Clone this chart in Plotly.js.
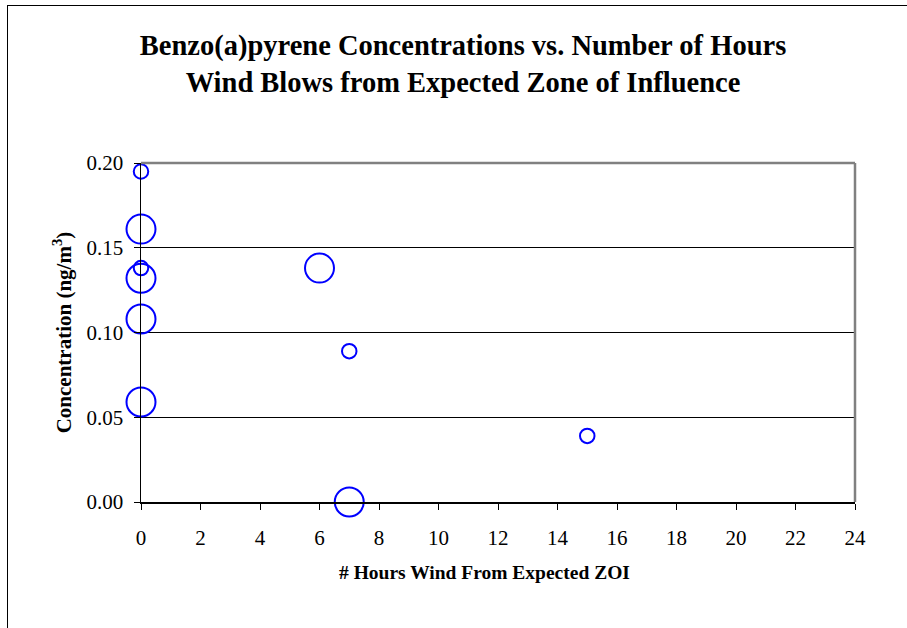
<!DOCTYPE html>
<html>
<head>
<meta charset="utf-8">
<script src="https://cdn.plot.ly/plotly-3.0.1.min.js"></script>
<style>
  html, body { margin: 0; padding: 0; background: #fff; overflow: hidden; }
  #frame { position: absolute; left: 7px; top: 5px; width: 1200px; height: 1000px; border: 1px solid #000; pointer-events: none; z-index: 2; }
  #chart { position: absolute; left: 0; top: 0; width: 907px; height: 628px; }
</style>
</head>
<body>
<div id="chart"></div>
<div id="frame"></div>
<script>
// Data
const hoursWindFromZOI = [0, 0, 0, 0, 0, 0, 6, 7, 7, 15];
const concentration = [0.195, 0.161, 0.138, 0.132, 0.108, 0.059, 0.138, 0.089, 0.000, 0.039];
const bubbleSize = [1, 2, 1, 2, 2, 2, 2, 1, 2, 1];
const xTickValues = [0, 2, 4, 6, 8, 10, 12, 14, 16, 18, 20, 22, 24];
const yTickValues = [0.00, 0.05, 0.10, 0.15, 0.20];

const serif = 'Liberation Serif, Times New Roman, serif';

const trace = {
  type: 'scatter',
  mode: 'markers',
  x: hoursWindFromZOI,
  y: concentration,
  cliponaxis: false,
  hoverinfo: 'x+y',
  marker: {
    symbol: 'circle-open',
    size: bubbleSize,
    sizemode: 'diameter',
    sizeref: 1 / 14.5,
    opacity: 1,
    color: '#0000FF',
    line: { color: '#0000FF', width: 2 }
  }
};

const layout = {
  width: 907,
  height: 628,
  margin: { l: 141, r: 52, t: 163, b: 126 },
  paper_bgcolor: '#ffffff',
  plot_bgcolor: '#ffffff',
  showlegend: false,
  font: { family: serif, color: '#000' },
  title: {
    text: '<b>Benzo(a)pyrene Concentrations vs. Number of Hours<br>Wind Blows from Expected Zone of Influence</b>',
    font: { family: serif, size: 28.5, color: '#000' },
    x: 463 / 907,
    xanchor: 'center',
    xref: 'container',
    y: 1 - 55 / 628,
    yanchor: 'top',
    yref: 'container'
  },
  xaxis: {
    range: [0, 24],
    tickvals: xTickValues,
    ticktext: xTickValues.map(String),
    ticks: 'outside',
    ticklen: 6,
    tickwidth: 1,
    tickcolor: '#000',
    ticklabelstandoff: 10,
    tickfont: { family: serif, size: 21, color: '#000' },
    showline: true,
    linecolor: '#000',
    linewidth: 1.5,
    showgrid: false,
    zeroline: false
  },
  yaxis: {
    range: [0, 0.2],
    tickvals: yTickValues,
    ticktext: yTickValues.map(v => v.toFixed(2)),
    ticks: 'outside',
    ticklen: 6,
    tickwidth: 1,
    tickcolor: '#000',
    ticklabelstandoff: 6,
    tickfont: { family: serif, size: 21, color: '#000' },
    showline: true,
    linecolor: '#000',
    linewidth: 1.5,
    showgrid: true,
    gridcolor: '#000',
    gridwidth: 1,
    zeroline: false,
    title: {
      text: '<b>Concentration (ng/m<sup>3</sup>)</b>',
      font: { family: serif, size: 21, color: '#000' },
      standoff: 9
    }
  },
  annotations: [
    {
      text: '<b># Hours Wind From Expected ZOI</b>',
      xref: 'paper', yref: 'paper',
      x: (484 - 141) / 714, y: -(572 - 502) / 339,
      xanchor: 'center', yanchor: 'middle',
      showarrow: false,
      font: { family: serif, size: 19.5, color: '#000' }
    }
  ],
  shapes: [
    { type: 'line', xref: 'paper', yref: 'paper', x0: 0, x1: 1, y0: 1, y1: 1, line: { color: '#808080', width: 2.5 }, layer: 'above' },
    { type: 'line', xref: 'paper', yref: 'paper', x0: 1, x1: 1, y0: 0, y1: 1, line: { color: '#808080', width: 2.5 }, layer: 'above' }
  ]
};

Plotly.newPlot('chart', [trace], layout, { displayModeBar: false, staticPlot: true });
</script>
</body>
</html>
